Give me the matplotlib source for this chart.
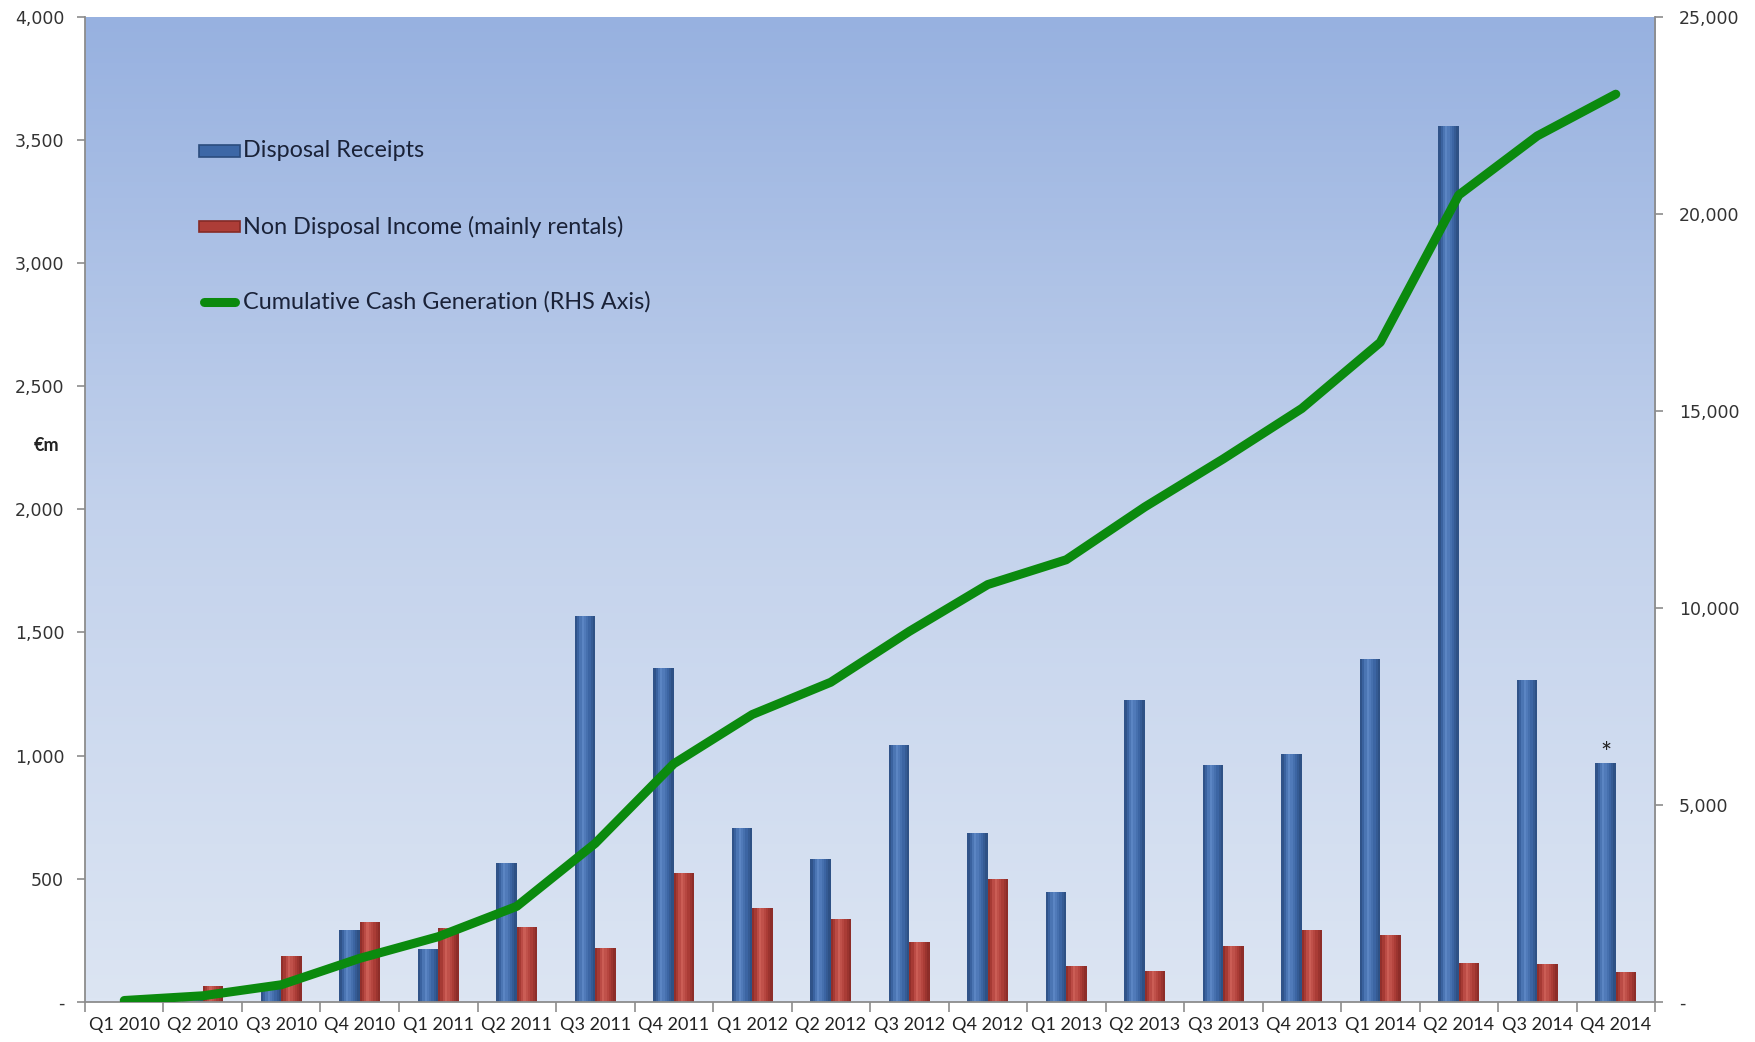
import numpy as np
import matplotlib
matplotlib.use("Agg")
import matplotlib.pyplot as plt
from matplotlib.patches import Rectangle
from matplotlib.lines import Line2D
from matplotlib.colors import LinearSegmentedColormap
from matplotlib.ticker import FuncFormatter

plt.rcParams['font.family'] = ['Lato', 'DejaVu Sans']

# data
quarters = ['Q1 2010', 'Q2 2010', 'Q3 2010', 'Q4 2010',
            'Q1 2011', 'Q2 2011', 'Q3 2011', 'Q4 2011',
            'Q1 2012', 'Q2 2012', 'Q3 2012', 'Q4 2012',
            'Q1 2013', 'Q2 2013', 'Q3 2013', 'Q4 2013',
            'Q1 2014', 'Q2 2014', 'Q3 2014', 'Q4 2014']
disposal = [0, 15, 77, 290, 213, 565, 1565, 1355, 705, 578, 1043, 686,
            447, 1225, 962, 1007, 1392, 3558, 1305, 968]
non_disposal = [0, 65, 186, 325, 298, 305, 219, 524, 379, 336, 244, 498,
                145, 126, 226, 291, 271, 158, 153, 119]
cumulative = [30, 150, 430, 1100, 1650, 2420, 4020, 6040, 7290, 8110, 9400, 10590,
              11220, 12560, 13780, 15060, 16740, 20480, 21980, 23040]
labels = ['Disposal Receipts', 'Non Disposal Income (mainly rentals)',
          'Cumulative Cash Generation (RHS Axis)']

blue_dark, blue_mid, blue_light = '#2b4c7e', '#3d67a6', '#5c86c4'
red_dark, red_mid, red_light = '#862a26', '#ad3d37', '#cc5e56'
green = '#0b8a0e'

fig = plt.figure(figsize=(17.56, 10.42), dpi=100)
ax = fig.add_axes([0.0484, 0.0387, 0.8941, 0.945])

# background gradient
grad = np.linspace(0, 1, 256).reshape(-1, 1)
bg = LinearSegmentedColormap.from_list('bg', ['#dce5f3', '#c3d2ec', '#97b1e0'])
ax.imshow(grad, extent=[0, 1, 0, 1], transform=ax.transAxes, cmap=bg,
          origin='lower', aspect='auto', zorder=0)

x = np.arange(len(quarters))
w = 0.26


def shaded_bars(xc, vals, dark, mid, light):
    # split each bar into strips to fake the cylinder look
    n = 9
    pos = [0.0, 0.2, 0.38, 0.7, 1.0]
    cmap = LinearSegmentedColormap.from_list('c', list(zip(pos, [dark, mid, light, mid, dark])))
    sw = w / n
    for i in range(n):
        ax.bar(xc - w / 2 + sw * (i + 0.5), vals, width=sw * 1.05,
               color=cmap((i + 0.5) / n), linewidth=0, antialiased=False, zorder=2)


shaded_bars(x - w / 2, disposal, blue_dark, blue_mid, blue_light)
shaded_bars(x + w / 2, non_disposal, red_dark, red_mid, red_light)

ax.set_xlim(-0.5, len(quarters) - 0.5)
ax.set_ylim(0, 4000)
ax.set_yticks(np.arange(0, 4001, 500))


def fmt(v, pos):
    return '-' if v == 0 else f'{int(v):,}'


ax.yaxis.set_major_formatter(FuncFormatter(fmt))
ax.set_xticks(x)
ax.set_xticklabels(quarters)
ax.set_xticks(np.arange(-0.5, len(quarters)), minor=True)
ax.tick_params(axis='x', which='major', length=0, pad=11, labelsize=13, labelcolor='#222222')
ax.tick_params(axis='x', which='minor', length=7, color='#8c8c8c', width=1.2)
ax.tick_params(axis='y', length=6, color='#8c8c8c', width=1.2, pad=9,
               labelsize=12.5, labelcolor='#333333')
for t in ax.get_yticklabels():
    t.set_fontfamily('DejaVu Sans')
for s in ['left', 'bottom']:
    ax.spines[s].set_color('#8c8c8c')
    ax.spines[s].set_linewidth(1.3)
ax.spines['top'].set_visible(False)
ax.spines['right'].set_visible(False)

ax.text(-0.016, 0.565, '€m', transform=ax.transAxes, ha='right', va='center',
        fontsize=13, fontweight='bold', color='#222222')
ax.text(x[-1] - w / 2, disposal[-1] + 35, '*', ha='center', va='center',
        fontsize=19, color='#222222')

ax2 = ax.twinx()
ax2.plot(x, cumulative, color=green, linewidth=6.5, solid_capstyle='round',
         solid_joinstyle='round', zorder=5)
ax2.set_ylim(0, 25000)
ax2.set_yticks(np.arange(0, 25001, 5000))
ax2.yaxis.set_major_formatter(FuncFormatter(fmt))
ax2.tick_params(axis='y', length=6, color='#8c8c8c', width=1.2, pad=11,
                labelsize=12.5, labelcolor='#333333')
for t in ax2.get_yticklabels():
    t.set_fontfamily('DejaVu Sans')
ax2.spines['right'].set_color('#8c8c8c')
ax2.spines['right'].set_linewidth(1.3)
for s in ['top', 'left', 'bottom']:
    ax2.spines[s].set_visible(False)

# legend drawn by hand, like the original
leg_y = [0.864, 0.787, 0.711]
hx0, hx1 = 0.0726, 0.0987
for yy, (dk, md), lab in zip(leg_y[:2], [(blue_dark, blue_mid), (red_dark, red_mid)], labels[:2]):
    ax2.add_patch(Rectangle((hx0, yy - 0.0058), hx1 - hx0, 0.0116, transform=ax2.transAxes,
                            facecolor=md, edgecolor=dk, linewidth=1.2, zorder=6))
ax2.add_line(Line2D([hx0 + 0.003, hx1 - 0.003], [leg_y[2], leg_y[2]], transform=ax2.transAxes,
                    color=green, linewidth=6.5, solid_capstyle='round', zorder=6))
for yy, lab in zip(leg_y, labels):
    ax2.text(0.1005, yy, lab, transform=ax2.transAxes, ha='left', va='center',
             fontsize=16.8, color='#1a2238', zorder=6)

fig.savefig('out.png', dpi=100)
